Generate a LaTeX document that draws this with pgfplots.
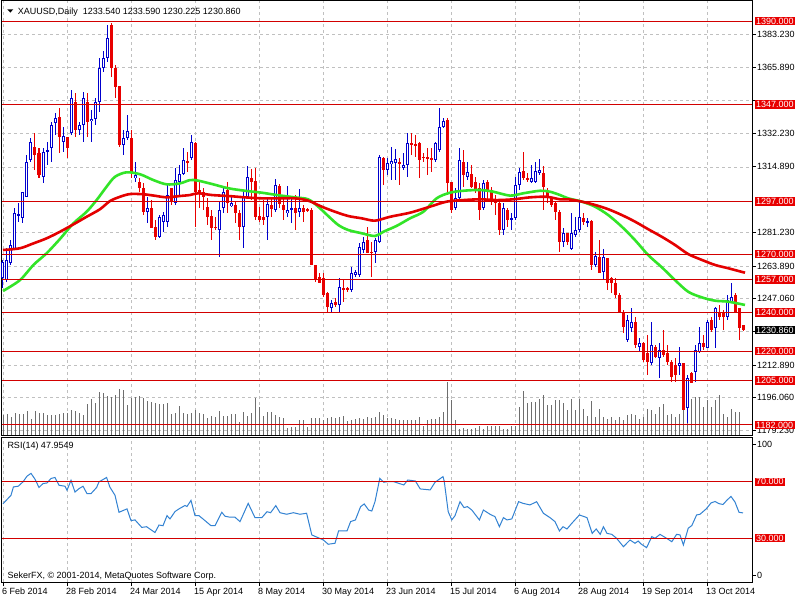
\documentclass[border=0pt]{standalone}
\usepackage{fontspec}
\setmainfont{Liberation Sans}
\usepackage{pgfplots}
\usepackage{pgfplotstable}
\pgfplotsset{compat=1.18}

\definecolor{bullblue}{RGB}{0,0,205}
\definecolor{bearred}{RGB}{232,0,0}
\definecolor{levelred}{RGB}{210,0,0}
\definecolor{boxred}{RGB}{232,0,0}
\definecolor{magreen}{RGB}{50,228,40}
\definecolor{mared}{RGB}{228,0,0}
\definecolor{gridgray}{RGB}{192,192,192}
\definecolor{volgray}{RGB}{110,110,110}
\definecolor{rsiblue}{RGB}{50,130,210}

% bullish candles: bar open high low close
\pgfplotstableread{
i o h l c
0 1257.5 1267.0 1252.4 1266.1
1 1256.7 1273.0 1255.8 1267.0
2 1265.3 1277.3 1264.4 1274.7
3 1272.1 1293.6 1272.1 1291.0
4 1289.8 1296.1 1286.7 1290.5
5 1288.4 1302.1 1285.8 1302.1
6 1299.6 1321.0 1299.6 1317.6
7 1318.4 1329.9 1317.6 1327.9
10 1309.9 1324.5 1306.4 1322.7
11 1322.7 1327.9 1315.9 1323.5
12 1324.5 1338.2 1317.6 1336.5
13 1337.3 1342.5 1331.3 1339.9
15 1327.9 1335.6 1322.7 1330.8
17 1332.2 1354.5 1331.3 1350.2
19 1333.9 1338.2 1331.3 1336.5
20 1336.5 1353.3 1327.9 1350.2
22 1338.5 1344.2 1327.9 1339.6
23 1339.6 1350.2 1336.5 1348.1
24 1348.5 1370.8 1343.3 1366.0
25 1366.0 1374.6 1363.9 1370.8
26 1370.8 1388.0 1369.1 1381.1
30 1326.2 1333.9 1321.0 1329.9
31 1329.9 1341.6 1328.7 1333.4
33 1309.0 1317.6 1307.3 1310.7
36 1291.9 1299.6 1285.8 1293.6
39 1279.0 1290.1 1278.1 1289.3
40 1286.7 1291.9 1281.6 1290.1
41 1286.7 1306.4 1284.1 1300.4
43 1296.1 1314.2 1295.3 1308.2
44 1307.3 1315.9 1300.4 1311.1
45 1311.1 1324.5 1310.7 1318.4
47 1319.3 1331.3 1318.4 1327.9
54 1282.4 1297.0 1268.7 1292.7
55 1293.6 1304.7 1291.0 1302.1
57 1294.8 1300.4 1294.4 1296.1
60 1284.1 1302.1 1273.0 1299.6
61 1298.7 1315.4 1298.7 1309.9
66 1288.9 1298.7 1277.3 1295.6
68 1292.7 1308.5 1291.8 1305.6
71 1291.0 1305.1 1289.3 1292.7
72 1292.7 1298.7 1285.8 1293.6
74 1291.8 1303.3 1289.3 1293.6
82 1242.1 1246.4 1240.4 1245.0
84 1243.8 1257.5 1240.4 1253.2
87 1251.5 1263.5 1250.7 1260.1
88 1259.2 1261.8 1258.4 1261.0
89 1259.2 1275.5 1258.4 1273.8
90 1272.1 1279.0 1270.4 1276.4
93 1271.3 1278.1 1265.3 1277.3
94 1276.4 1321.0 1275.5 1320.2
96 1313.3 1319.3 1310.7 1316.7
97 1316.2 1325.3 1308.2 1317.9
98 1316.7 1323.9 1308.2 1318.8
100 1314.5 1322.2 1313.3 1315.9
101 1315.9 1332.2 1309.9 1327.0
108 1318.4 1327.9 1317.6 1327.0
109 1323.6 1345.0 1322.7 1335.6
110 1335.6 1339.9 1334.7 1338.7
113 1293.6 1303.9 1292.7 1298.7
114 1298.7 1324.5 1297.9 1318.4
116 1309.5 1317.6 1308.2 1312.4
120 1293.6 1308.2 1292.7 1306.4
125 1282.4 1296.5 1279.8 1293.6
127 1287.6 1291.0 1282.4 1288.4
128 1288.4 1309.5 1287.6 1305.6
129 1305.6 1314.2 1303.0 1312.4
132 1307.3 1315.9 1306.4 1309.0
133 1307.3 1317.6 1306.4 1313.0
134 1311.9 1318.8 1310.7 1313.3
140 1276.4 1283.3 1273.8 1280.7
142 1272.5 1291.0 1272.1 1280.7
143 1279.8 1289.3 1279.0 1282.4
144 1282.4 1297.0 1281.5 1288.9
146 1286.2 1288.4 1284.1 1286.9
148 1264.4 1271.3 1263.5 1269.0
150 1261.0 1272.5 1256.7 1268.3
156 1225.8 1238.6 1224.9 1236.1
157 1231.8 1242.1 1230.1 1235.2
159 1222.3 1226.6 1219.8 1224.4
162 1213.8 1235.2 1212.9 1223.2
164 1216.3 1224.1 1206.0 1220.6
169 1212.4 1222.3 1207.8 1214.1
171 1190.6 1207.8 1182.9 1206.0
173 1209.5 1223.2 1204.3 1220.6
174 1219.8 1232.6 1218.9 1224.1
176 1221.5 1236.1 1221.5 1235.2
178 1231.8 1242.9 1221.5 1242.1
181 1237.8 1248.9 1236.1 1246.4
182 1245.5 1254.9 1244.7 1248.1
}\bull

% bearish candles
\pgfplotstableread{
i o h l c
8 1325.3 1332.2 1313.3 1321.0
9 1321.9 1324.5 1309.0 1310.7
14 1340.8 1345.0 1321.9 1330.5
16 1330.5 1330.5 1319.3 1324.5
18 1348.5 1352.8 1330.5 1333.9
21 1348.1 1352.8 1330.5 1338.2
27 1388.0 1389.0 1361.3 1365.6
28 1365.6 1367.4 1350.2 1356.2
29 1356.5 1356.5 1325.3 1326.2
32 1329.9 1333.9 1309.0 1312.4
34 1307.3 1309.0 1302.0 1303.9
35 1304.2 1306.4 1290.1 1291.9
37 1293.6 1297.9 1283.3 1283.3
38 1284.1 1287.6 1277.3 1279.0
42 1303.9 1303.9 1295.3 1297.0
46 1317.9 1322.7 1312.4 1317.2
48 1327.0 1327.9 1284.1 1302.1
49 1303.0 1307.3 1293.6 1301.3
50 1302.1 1303.9 1292.7 1299.6
51 1294.4 1298.7 1285.0 1289.3
52 1289.6 1292.7 1277.3 1283.3
53 1284.1 1289.3 1282.4 1283.3
56 1303.0 1307.3 1291.0 1296.1
58 1295.3 1297.0 1285.8 1291.0
59 1291.0 1292.7 1277.3 1284.1
62 1309.0 1313.6 1297.9 1307.3
63 1307.6 1314.2 1287.6 1289.3
64 1289.6 1294.4 1286.7 1287.6
65 1289.3 1297.9 1285.0 1287.6
67 1295.3 1298.2 1289.3 1293.0
69 1305.1 1306.1 1293.6 1295.8
70 1295.3 1299.6 1287.6 1292.7
73 1293.6 1300.4 1282.4 1291.0
75 1293.6 1295.3 1286.7 1291.8
76 1293.0 1293.6 1291.8 1292.4
77 1292.7 1293.6 1264.4 1264.4
78 1264.4 1264.4 1255.8 1256.7
79 1258.4 1260.1 1255.0 1255.0
80 1257.5 1260.1 1248.1 1248.9
81 1249.8 1250.7 1240.4 1242.9
83 1245.5 1247.2 1242.9 1243.8
85 1252.4 1256.7 1245.5 1251.5
86 1252.7 1253.2 1250.7 1251.5
91 1277.3 1284.1 1270.4 1270.4
92 1271.3 1276.4 1258.4 1270.4
95 1319.3 1320.2 1305.6 1313.3
99 1317.6 1319.3 1305.6 1316.4
102 1327.4 1332.2 1321.0 1326.2
103 1326.5 1331.3 1320.2 1325.8
104 1327.0 1327.9 1309.0 1318.4
105 1320.2 1321.9 1317.6 1319.3
106 1320.2 1324.5 1310.7 1318.8
107 1319.3 1324.5 1312.4 1318.4
111 1339.0 1339.9 1300.4 1306.4
112 1307.3 1307.3 1291.0 1292.7
115 1317.6 1323.6 1304.7 1310.7
117 1311.2 1315.9 1303.9 1304.7
118 1307.3 1309.9 1301.3 1303.0
119 1303.9 1306.4 1287.6 1292.7
121 1307.3 1308.2 1297.9 1303.0
122 1303.0 1304.4 1295.3 1297.9
123 1297.9 1300.4 1290.1 1296.1
124 1296.1 1297.9 1279.8 1282.4
126 1292.7 1293.6 1284.1 1287.6
130 1313.0 1322.7 1308.2 1309.0
131 1309.0 1311.6 1307.3 1308.2
135 1311.6 1315.4 1292.7 1304.7
136 1303.0 1303.9 1296.1 1299.6
137 1298.7 1299.6 1294.4 1295.3
138 1296.1 1297.0 1287.6 1291.8
139 1291.8 1292.7 1271.3 1276.4
141 1280.7 1280.7 1274.7 1276.4
145 1288.4 1291.0 1285.0 1286.7
147 1287.2 1287.6 1261.8 1264.4
149 1268.7 1277.3 1260.1 1260.4
151 1267.8 1267.8 1251.5 1254.9
152 1257.5 1258.4 1249.8 1254.9
153 1254.9 1257.5 1247.2 1248.9
154 1248.9 1249.8 1239.5 1240.4
155 1240.4 1241.2 1229.2 1232.6
158 1235.2 1237.8 1221.5 1223.2
160 1224.4 1224.9 1214.6 1215.5
161 1218.9 1228.4 1207.8 1214.6
163 1222.3 1223.2 1216.3 1217.2
165 1220.6 1230.9 1217.2 1218.1
166 1218.9 1223.2 1212.9 1214.6
167 1214.6 1215.5 1204.3 1206.9
168 1212.9 1216.3 1204.3 1207.8
170 1213.8 1213.8 1189.7 1189.7
172 1208.6 1209.5 1203.5 1203.5
175 1224.1 1228.4 1220.6 1222.3
177 1236.1 1237.8 1230.1 1230.9
179 1240.4 1243.8 1236.1 1237.8
180 1239.5 1241.2 1230.9 1237.8
183 1248.9 1249.8 1239.5 1240.4
184 1242.1 1242.1 1225.8 1231.8
185 1233.54 1233.59 1230.225 1230.86
}\bear

% moving averages
\pgfplotstableread{
i p
0 1251.0
4.25 1256.6
7.6 1264.4
10.9 1270.4
14.25 1277.8
17.6 1285.8
20.9 1291.8
23.4 1297.8
25.9 1304.7
28 1309.8
30.9 1312.1
34.25 1311.1
37.6 1308.1
40.9 1305.9
44.25 1306.4
46.75 1308.1
48.8 1307.8
52.2 1306.1
56.3 1303.9
60.5 1302.6
64.7 1301.6
68.8 1300.3
73 1299.2
76.3 1298.2
78.8 1294.4
81.3 1289.6
83.8 1285.0
86.3 1282.4
89.7 1280.7
93 1279.3
95.1 1281.5
98.4 1284.5
101.75 1288.4
105.1 1291.8
108.4 1298.7
111.75 1301.6
115.1 1302.6
119.25 1303.0
122.6 1302.1
126.75 1300.1
130.1 1301.3
134.25 1302.6
136.75 1302.1
139.25 1300.4
141.3 1298.7
144.7 1297.0
148 1294.4
151.3 1290.1
154.7 1284.1
158 1277.2
161.3 1269.5
164.7 1263.2
168 1256.6
171.3 1250.6
174.7 1247.7
178 1246.0
181.3 1245.5
185.5 1243.8
}\mafast

\pgfplotstableread{
i p
0 1272.1
4.25 1273.0
7.6 1275.5
10.9 1278.1
14.25 1281.5
17.6 1285.3
20.9 1289.2
24.25 1293.1
26.75 1297.3
29.25 1299.5
31.75 1300.9
35.1 1300.8
38.4 1299.9
40.9 1299.2
44.25 1299.9
46.75 1300.4
48.8 1301.3
52.2 1300.4
56.3 1299.9
60.5 1299.2
64.7 1298.7
68.8 1298.7
73 1298.7
76.3 1297.5
79.7 1294.4
83 1291.8
86.3 1289.6
89.7 1288.4
93 1287.2
96.75 1289.2
101.75 1291.3
106.75 1294.4
110.9 1297.0
115.1 1297.8
119.25 1298.2
123.4 1297.8
127.6 1298.2
131.75 1299.2
135.9 1299.5
139.25 1298.2
141.3 1298.2
144.7 1297.0
148 1295.3
151.3 1293.1
154.7 1290.1
158 1286.7
161.3 1282.8
164.7 1278.9
168 1274.7
171.3 1270.0
174.7 1267.0
178 1264.4
181.3 1262.7
185.5 1260.4
}\maslow

% tick volume (bar heights as drawn)
\pgfplotstableread{
i v
0 19.7
1 20.7
2 18
3 21.7
4 21.3
5 21.3
6 24
7 16.3
8 24
9 22.3
10 22
11 19.7
12 20
13 20
14 21.3
15 21.7
16 22.3
17 24.7
18 24
19 21.7
20 19.7
21 31.3
22 35.7
23 32.3
24 43
25 42.3
26 39
27 38.3
28 40
29 45.7
30 44.7
31 30
32 37.3
33 38
34 39
35 36.7
36 34
37 33.3
38 32.3
39 31.3
40 30.7
41 31.7
42 20.7
43 22.3
44 29
45 21.7
46 20.7
47 22.3
48 24.7
49 22.3
50 20.7
51 17.3
52 19
53 18
54 24
55 19
56 19
57 20.7
58 21.3
59 13.3
60 22.7
61 18.7
62 22
63 36.7
64 27.7
65 19.3
66 23.3
67 22.7
68 20
69 17.7
70 16.7
71 6.7
72 7.7
73 7.7
74 15.3
75 15
76 7.7
77 17
78 16.7
79 16.7
80 15.3
81 16.7
82 17.7
83 16.7
84 18.3
85 19.3
86 13.7
87 15
88 16
89 16.7
90 16
91 18.3
92 16.7
93 17.7
94 22.7
95 20
96 17
97 17
98 16
99 15.3
100 15.3
101 15
102 15
103 15
104 18.3
105 9.3
106 15
107 16
108 16
109 18.3
110 22.7
111 53.3
112 35
113 15
114 6
115 6.7
116 6
117 6
118 6.7
119 8.7
120 6
121 8.7
122 8.7
123 8.7
124 8.7
125 6
126 6
127 8.7
128 8.7
129 28.3
130 44.3
131 32
132 32.7
133 32.7
134 36
135 40
136 30
137 30
138 35
139 35
140 31.7
141 25
142 36
143 25
144 36
145 26
146 18.7
147 34.3
148 18.3
149 26
150 18
151 16.3
152 18
153 14.7
154 18
155 14.7
156 19.7
157 21.3
158 19.7
159 16.3
160 18
161 26.3
162 24.7
163 21.3
164 28
165 31.3
166 19.7
167 21.3
168 18
169 21.3
170 31.3
171 28
172 36.3
173 38
174 38
175 28
176 34.7
177 28
178 34.7
179 39.7
180 21.3
181 18
182 26.3
183 23
184 23
}\vol

% RSI(14)
\pgfplotstableread{
i r
0 54.4
2 60.4
2.6 66.3
3.8 66.8
5 69.9
6 73.9
7 75.9
8 71.8
9 65.9
10 68.7
11 69.1
12 72.3
13 73
14 67.5
15.5 66.8
16 63.9
17 71
18 62.7
19 65.1
20 66.8
21 61.6
22 61.6
23.4 65.9
24 69.9
25.9 73
26.7 66.3
28 60.4
29 48.4
30 49.6
31 50.8
32 42.5
33 43
34.7 37.7
35.9 38.2
36.75 36.5
38 34.1
39 39.4
40 38.9
41 46
41.75 43.7
43 48.9
44 50.8
45.5 53.2
46 52.5
47 56.8
48 46
49 46
50.5 42.5
52 38.9
53 38.9
54.7 48.4
55.5 45.6
56.75 44.9
58 44.9
59.25 41.8
61.3 54.7
63 44.6
64.7 44.6
66 48.8
66.9 48.1
68.2 53.1
69.25 48.1
70.9 47
72.6 48.1
74.25 47
75.9 47.7
77.2 32.4
80.1 28.8
81.3 25.8
83 26.5
83.9 35.2
86 35.2
86.9 41.8
88.1 43
89.4 52.4
90.3 54.3
91.4 50
92.2 49.3
93 55.9
94.2 72.4
95.2 69.6
96 70
97.7 70
100.2 67.7
101.2 71.2
103.1 70.5
104.3 64.9
106.8 64.2
108 69.6
110 73.6
110.3 70.5
111.3 48.8
112.2 43
113 46
114.25 55.9
115.25 51.7
116.1 52.4
117.2 50
119.1 43
120.1 50
121.75 47
123 45.3
124.1 38.2
125.1 44.6
126 43
127.2 43.7
128.9 55.9
130 54.7
131.75 53.6
133.4 55.9
135.1 47.7
136.75 44.6
138 41.8
139.1 35.2
140 38.2
141 36.6
142.2 40.6
144.1 46.5
146 44.6
147.3 33.5
148.3 36.6
149.3 32.8
150.1 38.2
151 33.5
152.2 32.8
153.4 30
155.1 24.1
156.75 28.8
158 26.5
158.8 28.1
159.6 25.8
160.9 23.4
162.2 31.2
163 30
164.25 32.8
165.9 30
167.2 27.6
168.4 32.8
169.25 32.4
170.1 25.3
171.3 37.1
172.2 39
173.4 46.5
174.25 47
175.8 50.8
176.3 52.5
177 55
178 56
179 54.5
180 53.9
181 57
182 59.6
183 55.6
184 48.4
185 47.95
}\rsi

\pgfplotsset{
  panel/.style={scale only axis, anchor=south west, width=750pt, xmin=-0.25, xmax=187.25},
  candle/.style 2 args={draw=none, mark=none, forget plot, error bars/.cd, y dir=both, y explicit,
    error mark=none, error bar style={draw=#1, line width=#2}},
}
\tikzset{
  redlbl/.style={anchor=west, fill=boxred, text=white, inner xsep=1.5pt, inner ysep=1pt, xshift=2.5pt},
  blklbl/.style={anchor=west, fill=black, text=white, inner xsep=1.5pt, inner ysep=1pt, xshift=2.5pt},
}

\begin{document}
\begin{tikzpicture}[font=\fontsize{9}{11}\selectfont]
\fill[white] (0pt,0pt) rectangle (800pt,600pt);
\path[use as bounding box] (0pt,0pt) rectangle (800pt,600pt);

% main panel: frame, grid, price scale
\begin{axis}[panel, at={(2pt,165pt)}, height=434pt, ymin=1176.85, ymax=1400.3,
  axis line style={line width=1pt},
  xtick={0,16,...,176}, xticklabels={}, xtick style={draw=none},
  ytick={1179.23,1196.06,1212.89,1230.0,1247.06,1263.89,1281.23,1314.89,1332.23,1349.3,1365.89,1383.23},
  yticklabels={1179.230,1196.060,1212.890,,1247.060,1263.890,1281.230,1314.890,1332.230,,1365.890,1383.230},
  ytick pos=right, tick align=outside, major tick length=4pt,
  ytick style={black, line width=0.8pt},
  yticklabel style={anchor=west, inner sep=0pt, xshift=1pt},
  xmajorgrids, ymajorgrids,
  grid style={gridgray, dash pattern=on 3pt off 3pt, line width=0.7pt}]
\end{axis}

% volume histogram
\begin{axis}[panel, at={(2pt,165pt)}, height=434pt, ymin=0, ymax=434, hide axis]
\addplot[ycomb, volgray, line width=1pt, mark=none] table[x=i, y=v] {\vol};
\end{axis}

% candles, moving averages, levels
\begin{axis}[panel, at={(2pt,165pt)}, height=434pt, ymin=1176.85, ymax=1400.3, hide axis, clip=false]
\addplot[candle={bullblue}{1pt}]
  table[x=i, y expr={(\thisrow{h}+\thisrow{l})/2}, y error expr={(\thisrow{h}-\thisrow{l})/2}] {\bull};
\addplot[candle={bearred}{1pt}]
  table[x=i, y expr={(\thisrow{h}+\thisrow{l})/2}, y error expr={(\thisrow{h}-\thisrow{l})/2}] {\bear};
\addplot[candle={bullblue}{3pt}]
  table[x=i, y expr={(\thisrow{o}+\thisrow{c})/2}, y error expr={(\thisrow{c}-\thisrow{o})/2}] {\bull};
\addplot[candle={white}{1pt}]
  table[x=i, y expr={(\thisrow{o}+\thisrow{c})/2}, y error expr={max((\thisrow{c}-\thisrow{o})/2-0.52,0)}] {\bull};
\addplot[candle={bearred}{3pt}]
  table[x=i, y expr={(\thisrow{o}+\thisrow{c})/2}, y error expr={(\thisrow{o}-\thisrow{c})/2}] {\bear};

\addplot[magreen, line width=2.6pt, smooth, mark=none] table[x=i, y=p] {\mafast};
\addplot[mared, line width=2.6pt, smooth, mark=none] table[x=i, y=p] {\maslow};

% horizontal levels
\addplot[levelred, line width=1pt, mark=none] coordinates {(-0.25,1390) (187.25,1390)};
\addplot[levelred, line width=1pt, mark=none] coordinates {(-0.25,1347) (187.25,1347)};
\addplot[levelred, line width=1pt, mark=none] coordinates {(-0.25,1297) (187.25,1297)};
\addplot[levelred, line width=1pt, mark=none] coordinates {(-0.25,1270) (187.25,1270)};
\addplot[levelred, line width=1pt, mark=none] coordinates {(-0.25,1257) (187.25,1257)};
\addplot[levelred, line width=1pt, mark=none] coordinates {(-0.25,1240) (187.25,1240)};
\addplot[levelred, line width=1pt, mark=none] coordinates {(-0.25,1220) (187.25,1220)};
\addplot[levelred, line width=1pt, mark=none] coordinates {(-0.25,1205) (187.25,1205)};
\addplot[levelred, line width=1pt, mark=none] coordinates {(-0.25,1182) (187.25,1182)};
\node[redlbl] at (axis cs:187.25,1390) {1390.000};
\node[redlbl] at (axis cs:187.25,1347) {1347.000};
\node[redlbl] at (axis cs:187.25,1297) {1297.000};
\node[redlbl] at (axis cs:187.25,1270) {1270.000};
\node[redlbl] at (axis cs:187.25,1257) {1257.000};
\node[redlbl] at (axis cs:187.25,1240) {1240.000};
\node[redlbl] at (axis cs:187.25,1220) {1220.000};
\node[redlbl] at (axis cs:187.25,1205) {1205.000};
\node[redlbl] at (axis cs:187.25,1182) {1182.000};
\node[blklbl] at (axis cs:187.25,1230.86) {1230.860};
\end{axis}

% RSI panel
\begin{axis}[panel, at={(2pt,18pt)}, height=145pt, ymin=-0.88, ymax=101.6, clip=false,
  axis line style={line width=1pt},
  xtick={0,16,...,176},
  xticklabels={6 Feb 2014,28 Feb 2014,24 Mar 2014,15 Apr 2014,8 May 2014,30 May 2014,23 Jun 2014,15 Jul 2014,6 Aug 2014,28 Aug 2014,19 Sep 2014,13 Oct 2014},
  xtick pos=bottom, ytick pos=right, tick align=outside, major tick length=4pt,
  tick style={black, line width=0.8pt},
  xticklabel style={anchor=north west, inner sep=0pt, xshift=-1pt, yshift=-2pt},
  ytick={3.5,96.6}, yticklabels={0,100},
  yticklabel style={anchor=west, inner sep=0pt, xshift=1pt},
  xmajorgrids, grid style={gridgray, dash pattern=on 3pt off 3pt, line width=0.7pt}]
\addplot[rsiblue, line width=1pt, mark=none] table[x=i, y=r] {\rsi};
\addplot[levelred, line width=1pt, mark=none] coordinates {(-0.25,70) (187.25,70)};
\addplot[levelred, line width=1pt, mark=none] coordinates {(-0.25,30) (187.25,30)};
\node[redlbl] at (axis cs:187.25,70) {70.000};
\node[redlbl] at (axis cs:187.25,30) {30.000};
\end{axis}

% texts
\fill (7.3pt,590.7pt) -- (13.3pt,590.7pt) -- (10.3pt,587.4pt) -- cycle;
\node[anchor=base west, inner sep=0pt] at (17.7pt,585.5pt) {XAUUSD,Daily\ \ 1233.540 1233.590 1230.225 1230.860};
\node[anchor=base west, inner sep=0pt] at (7.3pt,151.5pt) {RSI(14) 47.9549};
\node[anchor=base west, inner sep=0pt] at (7.3pt,21.5pt) {SekerFX, © 2001-2014, MetaQuotes Software Corp.};
\end{tikzpicture}
\end{document}
